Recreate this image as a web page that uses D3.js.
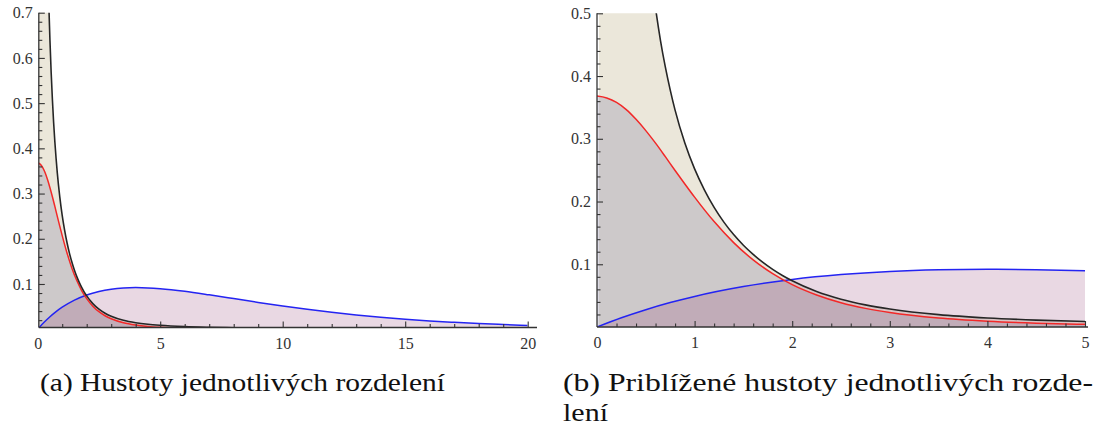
<!DOCTYPE html>
<html>
<head>
<meta charset="utf-8">
<script src="https://cdn.jsdelivr.net/npm/d3@7"></script>
<style>
  body { margin: 0; background: #fff; }
  svg { display: block; }
</style>
</head>
<body>
<svg id="chart" width="1103" height="436"></svg>
<script>
// Black density: unbounded near zero, heavy tail
const blackX = [0.02, 0.1, 0.2, 0.25, 0.3, 0.35, 0.4, 0.46, 0.5, 0.55, 0.6, 0.65, 0.7, 0.75, 0.8, 0.9,
                1.0, 1.1, 1.2, 1.3, 1.4, 1.5, 1.6, 1.7, 1.8, 1.9, 2.0, 2.25, 2.5, 2.75, 3.0, 3.5,
                4.0, 4.5, 5.0, 6, 7, 8, 10, 12, 15, 20];
const blackY = [9.0, 4.0, 1.85, 1.45, 1.15, 0.972, 0.835, 0.707, 0.639, 0.567, 0.508, 0.457, 0.4145, 0.378, 0.3456, 0.2932,
                0.252, 0.2187, 0.1907, 0.1672, 0.1473, 0.1303, 0.1157, 0.1029, 0.0918, 0.0821, 0.0736, 0.0565, 0.0442, 0.0353, 0.0287, 0.0197,
                0.0144, 0.0110, 0.00875, 0.0059, 0.0043, 0.0032, 0.002, 0.0014, 0.0009, 0.0005];

// Red density: flat top at 0.368, decays to zero
const redX = [0, 0.1, 0.2, 0.3, 0.4, 0.5, 0.6, 0.7, 0.8, 0.9, 1.0, 1.2, 1.4, 1.6, 1.8, 2.0,
              2.25, 2.5, 2.75, 3, 3.5, 4, 4.5, 5, 6, 7, 8, 10, 12, 15, 20];
const redY = [0.368, 0.365, 0.358, 0.3465, 0.331, 0.313, 0.293, 0.2715, 0.2495, 0.228, 0.207, 0.168, 0.1345, 0.107, 0.085, 0.0675,
              0.051, 0.0387, 0.0297, 0.023, 0.0142, 0.0092, 0.0061, 0.0042, 0.0022, 0.0012, 0.0007, 0.0003, 0.00015, 0.00006, 0.00002];

// Blue density: starts at zero, peak near x = 4, long right tail
const blueX = [0, 0.25, 0.5, 0.75, 1, 1.5, 2, 2.5, 3, 3.5, 4, 4.5, 5, 6, 7, 8, 9, 10,
               11, 12, 13, 14, 15, 16, 17, 18, 19, 20];
const blueY = [0, 0.0147, 0.0276, 0.0389, 0.0487, 0.0644, 0.0758, 0.0836, 0.0886, 0.0912, 0.092, 0.0913, 0.0895, 0.0837, 0.076, 0.0677, 0.0593, 0.0513,
               0.044, 0.0373, 0.0315, 0.0264, 0.0221, 0.0183, 0.0152, 0.0125, 0.0103, 0.0084];

// Axis tick labels
const xTicksA = [0, 5, 10, 15, 20];
const yTicksA = [0.1, 0.2, 0.3, 0.4, 0.5, 0.6, 0.7];
const xTicksB = [0, 1, 2, 3, 4, 5];
const yTicksB = [0.1, 0.2, 0.3, 0.4, 0.5];

// Captions
const captionA = ["(a) Hustoty jednotlivých rozdelení"];
const captionB = ["(b) Priblížené hustoty jednotlivých rozde-", "lení"];

const series = [
  { key: "black", pts: d3.zip(blackX, blackY) },
  { key: "red",   pts: d3.zip(redX, redY) },
  { key: "blue",  pts: d3.zip(blueX, blueY) }
];

const fillStyle = {
  black: { fill: "rgb(235,231,218)", opacity: 1 },
  red:   { fill: "rgb(115,111,154)", opacity: 0.25 },
  blue:  { fill: "rgb(145,60,115)",  opacity: 0.2 }
};
const lineStyle = {
  black: { stroke: "#262626", width: 1.6 },
  red:   { stroke: "#f22828", width: 1.5 },
  blue:  { stroke: "#2424f2", width: 1.5 }
};

const svg = d3.select("#chart");
const axisColor = "#333";
const serifFont = "Liberation Serif";

const panels = [
  {
    id: "a",
    x: d3.scaleLinear().domain([0, 20]).range([37.7, 527.7]),
    y: d3.scaleLinear().domain([0, 0.7]).range([329.2, 12.7]),
    origin: [0.045, 0.0038],
    xMax: 20, yMax: 0.7, axisEndPx: 537,
    xTicks: xTicksA, yTicks: yTicksA,
    xMinor: d3.range(1, 21).filter(i => i % 5 !== 0),
    yMinor: d3.range(1, 36).filter(i => i % 5 !== 0).map(i => i * 0.02),
    yFmt: d3.format(".1f")
  },
  {
    id: "b",
    x: d3.scaleLinear().domain([0, 5]).range([597, 1085]),
    y: d3.scaleLinear().domain([0, 0.5]).range([327.0, 13.3]),
    origin: [0, 0],
    xMax: 5, yMax: 0.5, axisEndPx: 1088,
    xTicks: xTicksB, yTicks: yTicksB,
    xMinor: d3.range(1, 26).filter(i => i % 5 !== 0).map(i => i * 0.2),
    yMinor: d3.range(1, 26).filter(i => i % 5 !== 0).map(i => i * 0.02),
    yFmt: d3.format(".1f")
  }
];

panels.forEach(p => {
  const g = svg.append("g");
  const ox = p.x(p.origin[0]), oy = p.y(p.origin[1]);
  const clipId = "clip-" + p.id;
  g.append("clipPath").attr("id", clipId)
    .append("rect")
    .attr("x", ox).attr("y", p.y(p.yMax))
    .attr("width", p.x(p.xMax) - ox)
    .attr("height", oy - p.y(p.yMax));

  const plot = g.append("g").attr("clip-path", `url(#${clipId})`);

  const area = d3.area()
    .x(d => p.x(d[0]))
    .y0(oy)
    .y1(d => p.y(d[1]))
    .curve(d3.curveMonotoneX);
  const line = d3.line()
    .x(d => p.x(d[0]))
    .y(d => p.y(d[1]))
    .curve(d3.curveMonotoneX);

  // filled regions down to the axis
  series.forEach(s => {
    plot.append("path")
      .attr("d", area(s.pts))
      .attr("fill", fillStyle[s.key].fill)
      .attr("fill-opacity", fillStyle[s.key].opacity);
  });
  // curves on top
  ["blue", "red", "black"].forEach(k => {
    const s = series.find(t => t.key === k);
    plot.append("path")
      .attr("d", line(s.pts))
      .attr("fill", "none")
      .attr("stroke", lineStyle[k].stroke)
      .attr("stroke-width", lineStyle[k].width)
      .attr("stroke-linejoin", "round");
  });

  // x axis: major ticks with labels, minor ticks
  const xAxisMajor = d3.axisBottom(p.x).tickValues(p.xTicks)
    .tickSize(-6).tickSizeOuter(0).tickPadding(10).tickFormat(d3.format("d"));
  const xAxisMinor = d3.axisBottom(p.x).tickValues(p.xMinor)
    .tickSize(-3.5).tickSizeOuter(0).tickFormat("");
  const gx = g.append("g").attr("transform", `translate(0,${oy})`);
  gx.append("g").call(xAxisMajor);
  gx.append("g").call(xAxisMinor);
  gx.selectAll(".domain").remove();
  gx.selectAll(".tick").filter(d => d === 0).select("line").remove();

  // y axis
  const yAxisMajor = d3.axisLeft(p.y).tickValues(p.yTicks)
    .tickSize(-6).tickSizeOuter(0).tickPadding(6).tickFormat(p.yFmt);
  const yAxisMinor = d3.axisLeft(p.y).tickValues(p.yMinor)
    .tickSize(-3.5).tickSizeOuter(0).tickFormat("");
  const gy = g.append("g").attr("transform", `translate(${ox},0)`);
  gy.append("g").call(yAxisMajor);
  gy.append("g").call(yAxisMinor);
  gy.selectAll(".domain").remove();

  [gx, gy].forEach(ax => {
    ax.selectAll("g").attr("font-family", serifFont).attr("font-size", 16);
    ax.selectAll(".tick line").attr("stroke", axisColor).attr("stroke-width", 1.1);
    ax.selectAll(".tick text")
      .attr("fill", axisColor)
      .attr("font-family", serifFont)
      .attr("font-size", 16);
  });

  // axis lines
  g.append("line")
    .attr("x1", ox).attr("x2", p.axisEndPx)
    .attr("y1", oy).attr("y2", oy)
    .attr("stroke", axisColor).attr("stroke-width", 1.3);
  g.append("line")
    .attr("x1", ox).attr("x2", ox)
    .attr("y1", p.y(p.yMax)).attr("y2", oy)
    .attr("stroke", axisColor).attr("stroke-width", 1.3);
});

// captions
function caption(lines, x, y0, widths) {
  lines.forEach((t, i) => {
    svg.append("text")
      .attr("x", x).attr("y", y0 + i * 30)
      .attr("textLength", widths[i])
      .attr("lengthAdjust", "spacingAndGlyphs")
      .attr("fill", "#111")
      .attr("font-family", serifFont)
      .attr("font-size", 25)
      .text(t);
  });
}
caption(captionA, 40, 391, [405]);
caption(captionB, 563, 391, [530, 45]);
</script>
</body>
</html>
